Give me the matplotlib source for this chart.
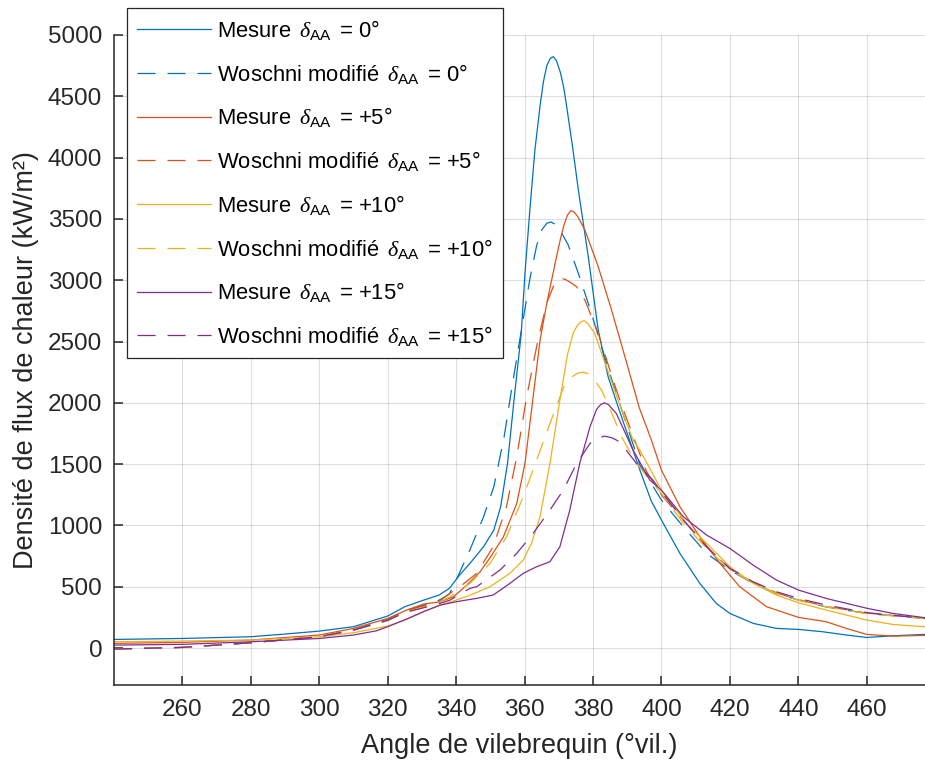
import numpy as np
import matplotlib
matplotlib.use("Agg")
import matplotlib.pyplot as plt

matplotlib.rcParams["font.family"] = ["Liberation Sans", "DejaVu Sans"]
matplotlib.rcParams["mathtext.fontset"] = "custom"
matplotlib.rcParams["mathtext.rm"] = "Liberation Sans"
matplotlib.rcParams["mathtext.it"] = "Liberation Serif:italic"

# Mesure, delta_AA = 0
x_m0 = [240, 260, 280, 290, 300, 310, 320, 325, 330, 335, 338, 341, 344, 348, 351, 353, 355, 357, 359,
        360.1, 361.6, 363, 364.5, 365.5, 366.5, 367.5, 368.4, 369.3, 370.5, 371.5, 372.3, 374, 375.7,
        378.6, 381.5, 384.4, 387.3, 390.3, 393.7, 397, 400, 405.4, 411.2, 416, 420, 426.8, 433.6, 440,
        447, 454, 460, 467.7, 477]
y_m0 = [70, 78, 92, 114, 138, 174, 261, 337, 386, 432, 486, 595, 690, 826, 962, 1152, 1505, 2049, 2560,
        3056, 3597, 4060, 4420, 4620, 4750, 4810, 4823, 4790, 4690, 4560, 4414, 4090, 3736,
        3192, 2594, 2213, 1969, 1724, 1450, 1200, 1043, 771, 527, 364, 282, 201, 160, 152,
        133, 106, 86, 100, 111]

# Woschni modifie, delta_AA = 0
x_w0 = [240, 260, 280, 300, 310, 320, 325, 330, 335, 338, 340, 344, 348, 351, 354, 356.2, 359.1, 361.6,
        363.5, 365, 366.5, 367.7, 369, 370.5, 372.7, 375.7, 378.6, 381, 385, 389, 393.7, 400, 406.4,
        413.2, 420, 426.8, 433.6, 440, 448, 460, 477]
y_w0 = [-8, 5, 43, 92, 150, 235, 305, 345, 390, 440, 554, 799, 1070, 1315, 1720, 2110, 2600, 3020,
        3280, 3410, 3465, 3475, 3455, 3400, 3290, 3056, 2811, 2594, 2230, 1890, 1491, 1206, 988,
        771, 635, 527, 445, 391, 336, 282, 241]

# Mesure, delta_AA = +5
x_m5 = [240, 260, 280, 300, 310, 320, 325.5, 330.4, 335.3, 339.2, 343, 347, 350, 353.8, 357.7, 360.1,
        362.5, 364.5, 366.4, 369.3, 370.5, 371.5, 372.5, 373.5, 374.5, 375.5, 377.6, 381.5, 385.4,
        389.3, 393.5, 397, 400, 405.4, 411.2, 417.1, 422.9, 430.7, 440, 448.2, 454, 460, 467.7, 477]
y_m5 = [38, 46, 65, 106, 160, 241, 309, 358, 377, 418, 510, 622, 740, 907, 1179, 1505,
        2049, 2508, 2800, 3189, 3340, 3450, 3530, 3567, 3555, 3520, 3410, 3111, 2757,
        2377, 1960, 1700, 1450, 1152, 907, 690, 499, 337, 250, 214, 160, 111, 97, 103]

# Woschni modifie, delta_AA = +5
x_w5 = [240, 260, 280, 300, 310, 320, 325, 330, 335, 338.2, 342, 346, 350.8, 354.7, 357.7, 360.6, 363.5,
        366.4, 368.5, 369.8, 370.8, 372, 373.5, 375.2, 377.6, 381.5, 384.9, 387.8, 390.7, 395.6, 400,
        406.4, 413.2, 420, 426.8, 433.6, 440, 448, 460, 477]
y_w5 = [-8, 5, 43, 92, 146, 228, 300, 340, 380, 446, 520, 609, 826, 1152, 1560, 2049, 2456,
        2810, 2955, 3000, 3015, 3005, 2980, 2947, 2839, 2567, 2268, 2023, 1805, 1440, 1247,
        1043, 825, 645, 535, 450, 395, 340, 285, 243]

# Mesure, delta_AA = +10
x_m10 = [240, 260, 280, 300, 310, 320, 325.5, 330.4, 335.3, 340, 344, 349.9, 355.7, 359.6, 362, 364.5,
         367.4, 370.3, 372.5, 374.2, 375.5, 376.5, 377.4, 378.5, 380.5, 382.5, 384.9, 387.3, 389.8,
         391.7, 393.7, 400, 407.3, 413.2, 420, 426.8, 433.6, 440, 448.2, 460, 467.7, 477]
y_m10 = [51, 57, 65, 92, 125, 179, 233, 296, 350, 391, 430, 500, 609, 717, 853, 1070,
         1505, 2021, 2390, 2570, 2635, 2662, 2670, 2645, 2567, 2404, 2213, 2023, 1833,
         1697, 1613, 1287, 1016, 853, 663, 527, 432, 369, 309, 228, 192, 173]

# Woschni modifie, delta_AA = +10
x_w10 = [240, 260, 280, 300, 310, 320, 325, 330, 335, 338.2, 344, 349.9, 354.7, 359.6, 363.5, 367.4,
         371.3, 374, 375.5, 377.1, 378.5, 380, 382.5, 385.9, 388.3, 392.7, 400, 406.4, 413.2, 420,
         426.8, 433.6, 440, 448.2, 460, 477]
y_w10 = [-8, 5, 43, 92, 146, 225, 290, 330, 372, 418, 527, 690, 907, 1234, 1532, 1831,
         2120, 2215, 2242, 2250, 2238, 2200, 2105, 1887, 1724, 1505, 1260, 1016, 812, 640,
         530, 445, 390, 335, 280, 240]

# Mesure, delta_AA = +15
x_m15 = [240, 260, 280, 300, 310, 316.8, 320, 325.5, 330.4, 335.3, 340.1, 346, 350.8, 355.7, 359.6,
         363.5, 367.4, 370.3, 373.2, 376.1, 379.1, 381, 382.2, 383.3, 384.5, 386.8, 391.7, 396.6, 400,
         406.4, 413.2, 420, 426.8, 433.6, 440.1, 448.2, 460.2, 467.7, 477]
y_m15 = [24, 30, 51, 78, 106, 141, 174, 236, 296, 350, 378, 405, 432, 527, 609,
         663, 704, 826, 1125, 1505, 1804, 1945, 1985, 2000, 1985, 1913, 1614, 1369, 1287,
         1070, 921, 812, 676, 554, 472, 404, 323, 282, 247]

# Woschni modifie, delta_AA = +15
x_w15 = [240, 260, 280, 300, 310, 320, 325, 330, 335, 338.2, 344, 346, 352.8, 357.7, 362.5, 367.4,
         371.3, 375.2, 379.1, 381.2, 383.4, 385.5, 387.8, 392.7, 397.5, 400, 406.4, 413.2, 420, 426.8,
         433.6, 440.1, 448.2, 460.2, 477]
y_w15 = [-8, 5, 43, 92, 146, 225, 290, 325, 362, 391, 486, 500, 636, 772, 935, 1125,
         1288, 1505, 1668, 1712, 1728, 1715, 1682, 1505, 1370, 1274, 1043, 825, 649, 540,
         459, 404, 350, 288, 241]

advances = ["0", "+5", "+10", "+15"]
colors = ["#0072BD", "#D95319", "#EDB120", "#7E2F8E"]
mesures = [(x_m0, y_m0), (x_m5, y_m5), (x_m10, y_m10), (x_m15, y_m15)]
woschni = [(x_w0, y_w0), (x_w5, y_w5), (x_w10, y_w10), (x_w15, y_w15)]

fig = plt.figure(figsize=(9.25, 7.62), dpi=100)
ax = fig.add_axes([0.1232, 0.1013, 0.8768, 0.8528])

for adv, c, (xm, ym), (xw, yw) in zip(advances, colors, mesures, woschni):
    ax.plot(xm, ym, color=c, lw=0.9,
            label=r"Mesure $\,\delta_{\mathrm{AA}}\,$ = " + adv + "°")
    ax.plot(xw, yw, color=c, lw=0.9, linestyle=(0, (14.5, 9.5)),
            label=r"Woschni modifié $\,\delta_{\mathrm{AA}}\,$ = " + adv + "°")

ax.set_xlim(240, 477)
ax.set_ylim(-300, 5000)
ax.set_xticks(np.arange(260, 461, 20))
ax.set_yticks(np.arange(0, 5001, 500))
ax.grid(True, color="#262626", alpha=0.15, lw=0.8)
ax.set_axisbelow(True)
for s in ["top", "right"]:
    ax.spines[s].set_visible(False)
for s in ["left", "bottom"]:
    ax.spines[s].set_linewidth(1.1)
    ax.spines[s].set_color("#262626")
ax.tick_params(direction="in", length=6.5, width=1.1, color="#262626",
               labelsize=17.5, labelcolor="#262626")
ax.tick_params(axis="x", pad=10)
ax.tick_params(axis="y", pad=8.5)

ax.set_xlabel("Angle de vilebrequin (°vil.)", fontsize=19.5, color="#262626", labelpad=9)
ax.set_ylabel("Densité de flux de chaleur (kW/m²)", fontsize=19.5, color="#262626", labelpad=6)

leg = ax.legend(loc="upper left", bbox_to_anchor=(127 / 925, 1 - 8 / 762),
                bbox_transform=fig.transFigure, borderaxespad=0, fontsize=15.8,
                handlelength=3.4, handletextpad=0.25, labelspacing=0.9,
                borderpad=0.45, fancybox=False, framealpha=1)
leg.get_frame().set_edgecolor("#262626")
leg.get_frame().set_linewidth(0.9)

fig.savefig("out.png", dpi=100)
